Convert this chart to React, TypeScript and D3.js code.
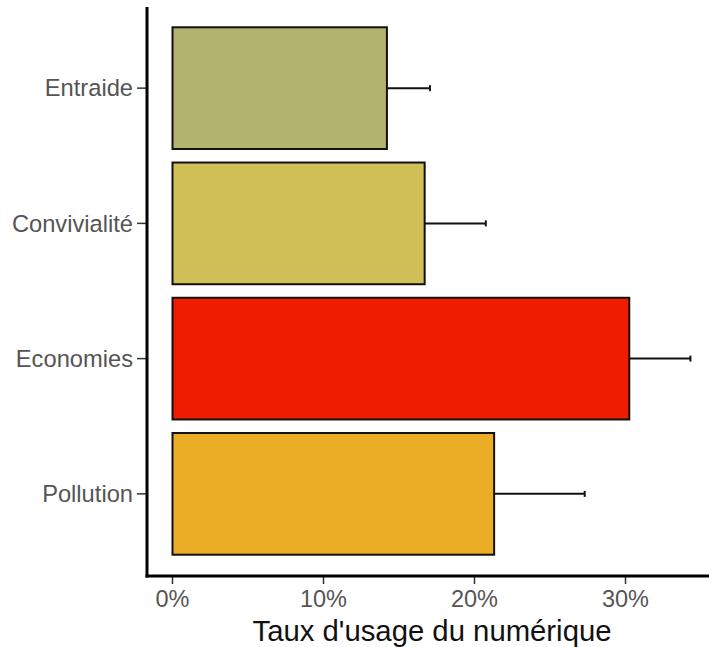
import React from "react";
import * as d3 from "d3";

const categories = ["Entraide", "Convivialité", "Economies", "Pollution"];
const values = [0.142, 0.167, 0.3025, 0.213];
const errorHigh = [0.1705, 0.2075, 0.343, 0.273];
const colors = ["#b3b370", "#d0bf56", "#ef1c00", "#ebad26"];
const xTicks = [0, 0.1, 0.2, 0.3];

export default function App() {
  const W = 709, H = 647;
  const x = d3.scaleLinear().domain([0, 0.1]).range([172.5, 323.5]);
  const y = d3.scaleBand<string>().domain(categories).range([7, 575]).paddingInner(0.1).paddingOuter(0.15);
  const axisY = 576;
  const axisX = 147;
  return (
    <div style={{ position: "absolute", left: 0, top: 0, width: W, height: H, overflow: "hidden" }}>
      <svg width={W} height={H} style={{ display: "block", fontFamily: "Liberation Sans, Arial, sans-serif" }}>
        <rect width={W} height={H} fill="#fff" />
        {categories.map((c, i) => {
          const y0 = y(c)!;
          const cy = y0 + y.bandwidth() / 2;
          return (
            <g key={c}>
              <line x1={x(values[i])} x2={x(errorHigh[i])} y1={cy} y2={cy} stroke="#111" strokeWidth={2} />
              <line x1={x(errorHigh[i])} x2={x(errorHigh[i])} y1={cy - 3} y2={cy + 3} stroke="#111" strokeWidth={2} />
              <rect x={x(0)} y={y0} width={x(values[i]) - x(0)} height={y.bandwidth()} fill={colors[i]} stroke="#111" strokeWidth={2} />
              <line x1={axisX - 10} x2={axisX} y1={cy} y2={cy} stroke="#333" strokeWidth={1.5} />
              <text x={axisX - 14} y={cy} dy="0.35em" textAnchor="end" fontSize={23.7} fill="#555">{c}</text>
            </g>
          );
        })}
        {xTicks.map((t) => (
          <g key={t}>
            <line x1={x(t)} x2={x(t)} y1={axisY} y2={axisY + 8} stroke="#333" strokeWidth={1.5} />
            <text x={x(t)} y={607} textAnchor="middle" fontSize={23.5} fill="#555">{d3.format(".0%")(t)}</text>
          </g>
        ))}
        <line x1={axisX} x2={axisX} y1={7} y2={axisY + 1.5} stroke="#000" strokeWidth={3} />
        <line x1={axisX - 1.5} x2={W} y1={axisY} y2={axisY} stroke="#000" strokeWidth={3} />
        <text x={432} y={641} textAnchor="middle" fontSize={29.3} fill="#111">Taux d'usage du numérique</text>
      </svg>
    </div>
  );
}
